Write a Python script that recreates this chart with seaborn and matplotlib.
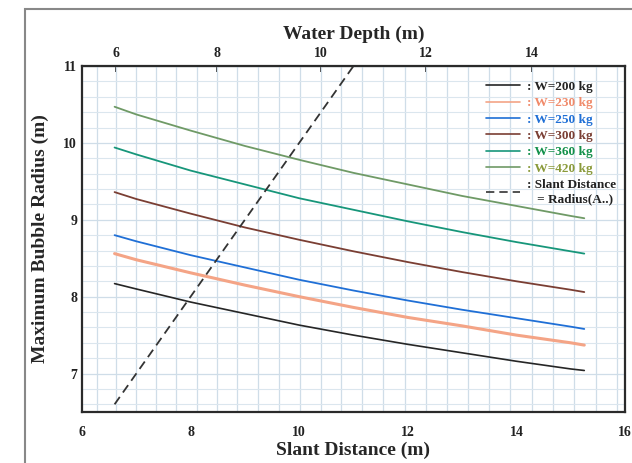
import matplotlib
matplotlib.use("Agg")
import numpy as np
import pandas as pd
import matplotlib.pyplot as plt
import seaborn as sns
from matplotlib.patches import Rectangle
from matplotlib.ticker import MultipleLocator, FixedLocator

# slant distance (m) at which the curves were read
slant = [6.6, 7, 8, 9, 10, 11, 12, 13, 14, 15, 15.25]

r_200 = [8.17, 8.10, 7.93, 7.78, 7.63, 7.50, 7.38, 7.27, 7.16, 7.06, 7.04]
r_230 = [8.56, 8.48, 8.31, 8.15, 8.00, 7.86, 7.73, 7.62, 7.50, 7.40, 7.37]
r_250 = [8.80, 8.72, 8.54, 8.38, 8.22, 8.08, 7.95, 7.83, 7.72, 7.61, 7.58]
r_300 = [9.36, 9.27, 9.08, 8.90, 8.74, 8.59, 8.45, 8.32, 8.20, 8.09, 8.06]
r_360 = [9.94, 9.85, 9.64, 9.46, 9.28, 9.13, 8.98, 8.84, 8.71, 8.59, 8.56]
r_420 = [10.47, 10.37, 10.16, 9.96, 9.78, 9.61, 9.46, 9.31, 9.18, 9.05, 9.02]

# slant distance = radius reference line
ref_x = [6.6, 11.0]
ref_y = [6.6, 11.0]

labels = [": W=200 kg", ": W=230 kg", ": W=250 kg", ": W=300 kg", ": W=360 kg", ": W=420 kg"]
line_colors = ["#262626", "#f4a486", "#1f6fd6", "#7a3e33", "#17967a", "#6f9a66"]
text_colors = ["#222222", "#f08a6a", "#1f6fd6", "#7a3e33", "#12904a", "#8a9a3a"]
widths = [1.2, 2.2, 1.3, 1.3, 1.3, 1.3]

# horizontal offset used for water depth = sqrt(slant^2 - OFFSET^2)
OFFSET_SQ = 8.0
depth_ticks = [6, 8, 10, 12, 14]


def to_depth(s):
    s = np.asarray(s, dtype=float)
    return np.sqrt(np.clip(s ** 2 - OFFSET_SQ, 0, None))


def to_slant(d):
    d = np.asarray(d, dtype=float)
    return np.sqrt(d ** 2 + OFFSET_SQ)


sns.set_style("white")
plt.rcParams['font.family'] = ['Liberation Serif', 'DejaVu Serif']
plt.rcParams['font.weight'] = 'bold'

fig = plt.figure(figsize=(6.32, 4.63), dpi=100)
ax = fig.add_axes([82 / 632, 1 - 412 / 463, (625 - 82) / 632, (412 - 66) / 463])

series = [r_200, r_230, r_250, r_300, r_360, r_420]
for vals, lab, col, lw in zip(series, labels, line_colors, widths):
    df = pd.DataFrame({'slant': slant, 'radius': vals})
    sns.lineplot(data=df, x='slant', y='radius', color=col, linewidth=lw, label=lab, ax=ax)

ref = pd.DataFrame({'slant': ref_x, 'radius': ref_y})
sns.lineplot(data=ref, x='slant', y='radius', color='#333333', linewidth=1.3,
             linestyle=(0, (5, 3)), label=": Slant Distance\n   = Radius(A..)", ax=ax)

ax.set_xlim(6, 16)
ax.set_ylim(6.5, 11)
ax.xaxis.set_major_locator(MultipleLocator(2))
ax.yaxis.set_major_locator(MultipleLocator(1))
ax.yaxis.set_minor_locator(MultipleLocator(0.2))
# vertical grid follows the water-depth scale every 0.4 m
depth_minor = np.arange(5.6, 15.8, 0.4)
ax.xaxis.set_minor_locator(FixedLocator(to_slant(depth_minor)))

ax.grid(False)
ax.grid(which='major', axis='y', color='#cfdde8', linewidth=0.9)
ax.grid(which='minor', axis='y', color='#dbe6ee', linewidth=0.8)
ax.grid(which='minor', axis='x', color='#cfdde8', linewidth=0.9)

ax.tick_params(axis='both', which='major', direction='in', length=4, width=1.2,
               labelsize=10, colors='#222222')
ax.tick_params(axis='both', which='minor', length=0)
ax.tick_params(axis='x', pad=10)
for lab in ax.get_xticklabels() + ax.get_yticklabels():
    lab.set_fontweight('bold')

for sp in ax.spines.values():
    sp.set_visible(True)
    sp.set_color('#2a2a2a')
    sp.set_linewidth(1.6)

ax.set_xlabel('Slant Distance (m)', fontsize=14, fontweight='bold', labelpad=2)
ax.set_ylabel('Maximum Bubble Radius (m)', fontsize=14, fontweight='bold', labelpad=10)

sec = ax.secondary_xaxis('top', functions=(to_depth, to_slant))
sec.set_xticks(depth_ticks)
sec.tick_params(direction='in', length=4, width=1.2, labelsize=10, colors='#222222', pad=4)
for lab in sec.get_xticklabels():
    lab.set_fontweight('bold')
sec.set_xlabel('Water Depth (m)', fontsize=14, fontweight='bold', labelpad=6)

leg = ax.legend(loc='upper right', bbox_to_anchor=(1.0, 0.985), frameon=False,
                fontsize=9.5, handlelength=2.6, handletextpad=0.5, labelspacing=0.32,
                borderaxespad=0.3)
for txt, col in zip(leg.get_texts(), text_colors + ['#222222']):
    txt.set_color(col)
    txt.set_fontweight('bold')
for h in leg.get_lines():
    h.set_linewidth(1.2)

# outer frame around the figure
fig.patches.append(Rectangle((25 / 632, -0.02), 1.0, 1 - 9 / 463 + 0.02,
                             transform=fig.transFigure, fill=False,
                             edgecolor='#888888', linewidth=1.5))

fig.savefig('out.png', dpi=100)
